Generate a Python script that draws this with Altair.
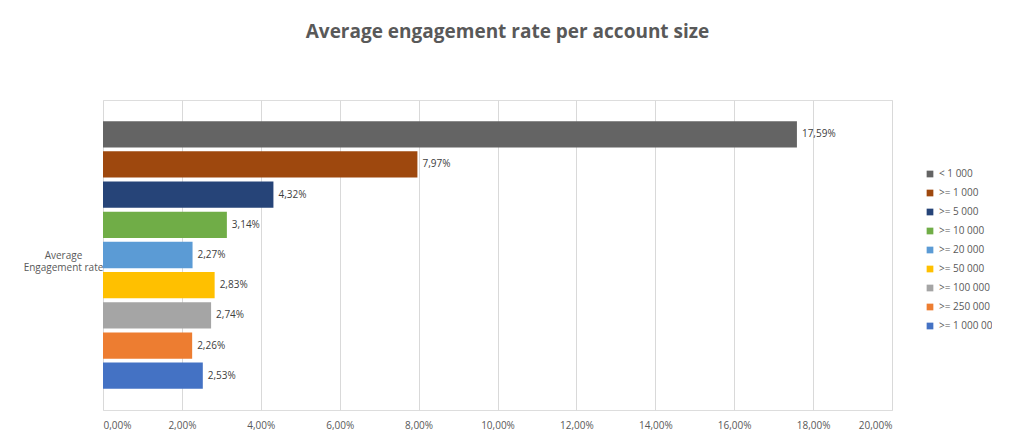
import altair as alt
import pandas as pd

categories = ["< 1 000", ">= 1 000", ">= 5 000", ">= 10 000", ">= 20 000",
              ">= 50 000", ">= 100 000", ">= 250 000", ">= 1 000 000"]
values = [17.59, 7.97, 4.32, 3.14, 2.27, 2.83, 2.74, 2.26, 2.53]
colors = ["#646464", "#9E480E", "#264478", "#70AD47", "#5B9BD5",
          "#FFC000", "#A5A5A5", "#ED7D31", "#4472C4"]

df = pd.DataFrame({
    "cat": categories,
    "val": [v / 100 for v in values],
    "label": [f"{v:.2f}%".replace(".", ",") for v in values],
})

y = alt.Y("cat:N", sort=categories,
          scale=alt.Scale(paddingInner=0.13, paddingOuter=0.7),
          axis=alt.Axis(title=["Average", "Engagement rate"], labels=False, ticks=False,
                        domain=False, titleAngle=0, titleAlign="center", titleBaseline="middle",
                        titleX=-40, titleY=155, titleFont="Open Sans", titleFontSize=10,
                        titleFontWeight="normal", titleColor="#595959"))
x = alt.X("val:Q", scale=alt.Scale(domain=[0, 0.2]),
          axis=alt.Axis(title=None, values=[i / 50 for i in range(11)],
                        labelExpr="replace(format(datum.value,'.2%'),'.',',')",
                        grid=True, gridColor="#D9D9D9", domain=False, ticks=False,
                        labelFont="Open Sans", labelFontSize=10, labelColor="#595959",
                        labelPadding=10))

bars = alt.Chart(df).mark_bar().encode(
    x=x, y=y,
    color=alt.Color("cat:N", sort=categories,
                    scale=alt.Scale(domain=categories, range=colors),
                    legend=alt.Legend(title=None, orient="none", legendX=822, legendY=69,
                                      symbolType="square", symbolSize=45, rowPadding=9,
                                      labelLimit=200,
                                      labelFont="Open Sans", labelFontSize=10,
                                      labelColor="#595959")))
text = alt.Chart(df).mark_text(align="left", dx=5, font="Open Sans", fontSize=10,
                               color="#404040").encode(x="val:Q", y=alt.Y("cat:N", sort=categories), text="label:N")

chart = alt.layer(bars, text).properties(
    width=789, height=310,
    title=alt.TitleParams("Average engagement rate per account size", font="Open Sans",
                          fontSize=19, fontWeight="bold", color="#595959",
                          anchor="middle", dx=10, offset=58),
    autosize=alt.AutoSizeParams(type="none"),
    padding={"left": 95, "top": 92, "right": 100, "bottom": 30},
).configure_view(stroke=None).configure(background="white")

chart.save("out.html", embed_options={"renderer": "svg", "actions": False})
